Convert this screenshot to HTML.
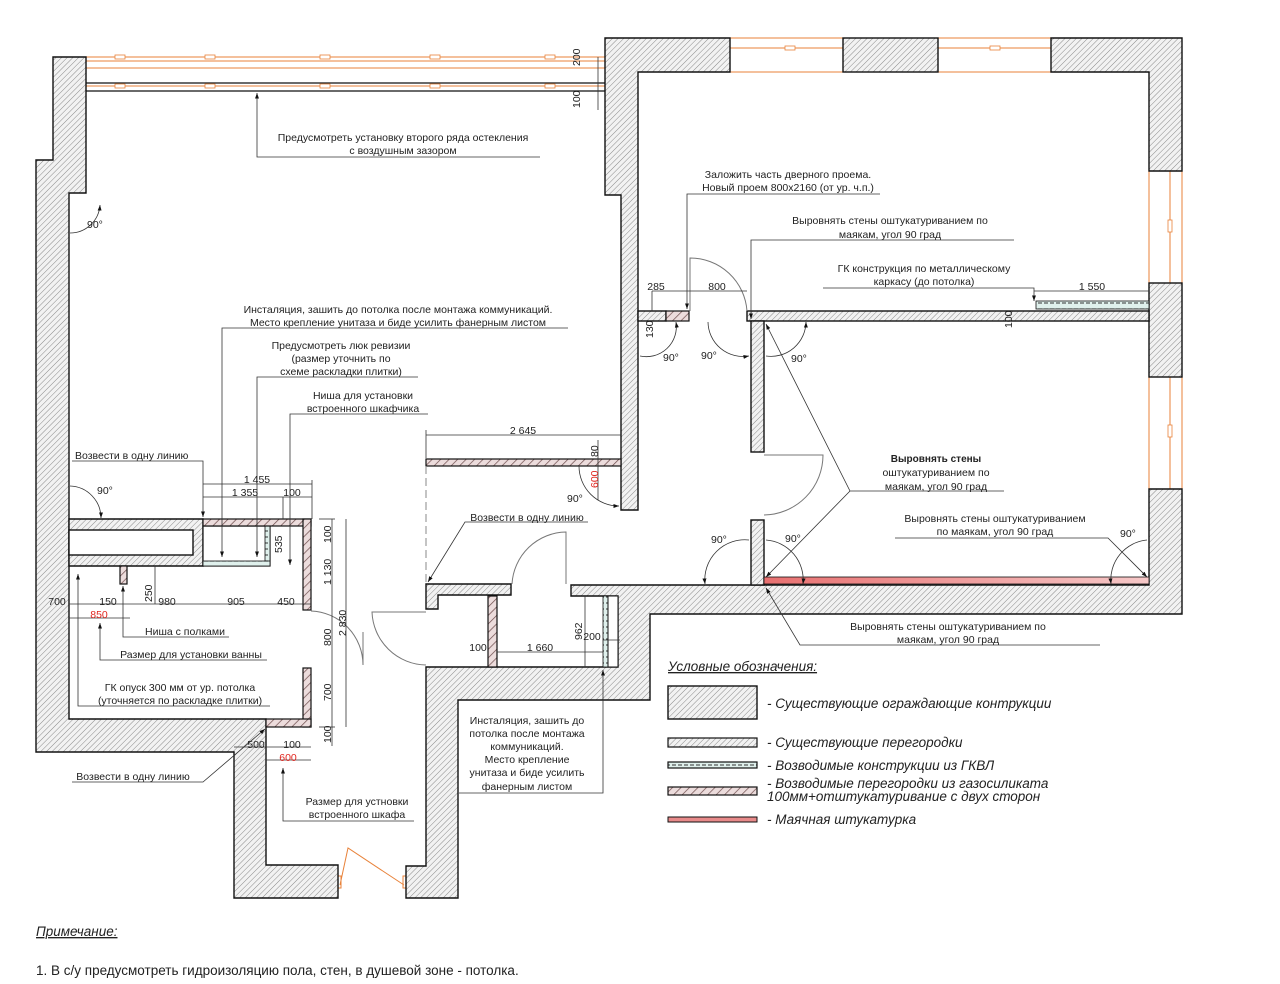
<!DOCTYPE html>
<html><head><meta charset="utf-8">
<style>
html,body{margin:0;padding:0;background:#fff;}
svg{display:block;}
text{font-family:"Liberation Sans",sans-serif;font-size:10.5px;fill:#222;}
.c{text-anchor:middle;}
.r{fill:#e0261f;}
.lg{font-size:13.5px;font-style:italic;}
</style></head><body>
<svg width="1280" height="984" viewBox="0 0 1280 984" xmlns="http://www.w3.org/2000/svg">
<defs>
<pattern id="h" width="4" height="4" patternUnits="userSpaceOnUse" patternTransform="rotate(45)">
<rect width="4" height="4" fill="#f2f2f2"/><line x1="0" y1="0" x2="0" y2="4" stroke="#8a8a8a" stroke-width="1"/></pattern>
<pattern id="b" width="6" height="6" patternUnits="userSpaceOnUse" patternTransform="rotate(45)">
<rect width="6" height="6" fill="#ecdcdc"/><line x1="0" y1="0" x2="0" y2="6" stroke="#6b4a4a" stroke-width="1.4"/></pattern>
<pattern id="g" width="6" height="6" patternUnits="userSpaceOnUse">
<rect width="6" height="6" fill="#dff0ec"/><line x1="0" y1="3" x2="4" y2="3" stroke="#333" stroke-width="1"/></pattern>
<linearGradient id="pk" x1="0" x2="1"><stop offset="0" stop-color="#e87070"/><stop offset="1" stop-color="#f6c8c8"/></linearGradient>
<marker id="a" markerWidth="8" markerHeight="8" refX="7" refY="4" orient="auto"><path d="M0,1.5 L7,4 L0,6.5z" fill="#111"/></marker>
</defs>

<!-- top-left glazing -->
<g stroke="#e8823a" stroke-width="1" fill="none">
<line x1="86" y1="57" x2="605" y2="57"/><line x1="86" y1="61" x2="605" y2="61"/>
<line x1="86" y1="68" x2="605" y2="68"/><line x1="86" y1="86" x2="605" y2="86"/>
<line x1="730" y1="38" x2="843" y2="38"/><line x1="730" y1="48" x2="843" y2="48"/><line x1="730" y1="72" x2="843" y2="72"/>
<line x1="938" y1="38" x2="1051" y2="38"/><line x1="938" y1="48" x2="1051" y2="48"/><line x1="938" y1="72" x2="1051" y2="72"/>
<line x1="1149" y1="171" x2="1149" y2="283"/><line x1="1170" y1="171" x2="1170" y2="283"/><line x1="1182" y1="171" x2="1182" y2="283"/>
<line x1="1149" y1="377" x2="1149" y2="489"/><line x1="1170" y1="377" x2="1170" y2="489"/><line x1="1182" y1="377" x2="1182" y2="489"/>
<path d="M340,885 L348,848 L404,885"/>
<rect x="337" y="876" width="4" height="12"/><rect x="403" y="876" width="4" height="12"/>
</g>
<g stroke="#111" stroke-width="1.2"><line x1="86" y1="83" x2="605" y2="83"/><line x1="86" y1="91" x2="605" y2="91"/></g>
<g fill="#fff" stroke="#e8823a" stroke-width="0.8">
<rect x="115" y="55" width="10" height="4"/><rect x="205" y="55" width="10" height="4"/><rect x="320" y="55" width="10" height="4"/><rect x="430" y="55" width="10" height="4"/><rect x="545" y="55" width="10" height="4"/>
<rect x="115" y="84" width="10" height="4"/><rect x="205" y="84" width="10" height="4"/><rect x="320" y="84" width="10" height="4"/><rect x="430" y="84" width="10" height="4"/><rect x="545" y="84" width="10" height="4"/>
<rect x="785" y="46" width="10" height="4"/><rect x="990" y="46" width="10" height="4"/>
<rect x="1168" y="220" width="4" height="12"/><rect x="1168" y="425" width="4" height="12"/>
</g>

<!-- walls -->
<g fill="url(#h)" stroke="#111" stroke-width="1.4">
<path d="M53,57 L86,57 L86,193 L69,193 L69,719 L266,719 L266,865 L338,865 L338,898 L234,898 L234,752 L36,752 L36,160 L53,160Z"/>
<path d="M69,519 L203,519 L203,566 L69,566Z"/>
<path d="M605,38 L730,38 L730,72 L638,72 L638,510 L621,510 L621,195 L605,195Z"/>
<rect x="843" y="38" width="95" height="34"/>
<path d="M1051,38 L1182,38 L1182,171 L1149,171 L1149,72 L1051,72Z"/>
<rect x="1149" y="283" width="33" height="94"/>
<path d="M571,585 L1149,585 L1149,489 L1182,489 L1182,614 L650,614 L650,700 L458,700 L458,898 L406,898 L406,866 L426,866 L426,667 L618,667 L618,596 L571,596Z"/>
<path d="M426,584 L511,584 L511,595 L438,595 L438,609 L426,609Z"/>
<rect x="638" y="311" width="28" height="10"/>
<rect x="747" y="311" width="402" height="10"/>
<rect x="751" y="321" width="13" height="131"/>
<rect x="751" y="520" width="13" height="65"/>
</g>
<rect x="69" y="530" width="124" height="25" fill="#fff" stroke="#111" stroke-width="1.4"/>
<rect x="203" y="526" width="67" height="40" fill="#fff" stroke="#111" stroke-width="1.2"/>
<rect x="265" y="526" width="5" height="40" fill="url(#g)" stroke="#111" stroke-width="0.8"/>
<rect x="203" y="561" width="67" height="5" fill="url(#g)" stroke="#111" stroke-width="0.8"/>
<g fill="url(#b)" stroke="#111" stroke-width="1.2">
<rect x="203" y="519" width="108" height="7"/>
<rect x="303" y="519" width="8" height="91"/>
<rect x="303" y="668" width="8" height="59"/>
<rect x="266" y="719" width="45" height="8"/>
<rect x="120" y="566" width="7" height="18"/>
<rect x="426" y="459" width="195" height="7"/>
<rect x="666" y="311" width="23" height="10"/>
<rect x="488" y="596" width="9" height="71"/>
</g>
<rect x="603" y="596" width="5" height="71" fill="url(#g)" stroke="#111" stroke-width="0.8"/>
<rect x="608" y="596" width="10" height="71" fill="#fff" stroke="#111" stroke-width="1"/>
<rect x="1036" y="301" width="113" height="8" fill="url(#g)" stroke="#111" stroke-width="0.8"/>
<rect x="764" y="577" width="385" height="7" fill="url(#pk)" stroke="#111" stroke-width="0.8"/>
<line x1="426" y1="466" x2="426" y2="584" stroke="#888" stroke-dasharray="8,4"/>

<!-- doors -->
<g fill="none" stroke="#777" stroke-width="1">
<path d="M690,311 L690,258 A57,57 0 0 1 747,311"/>
<path d="M764,455 L823,455 A60,60 0 0 1 764,515"/>
<path d="M311,611 A54,54 0 0 1 363,665 L363,632"/>
<path d="M426,612 L372,612 A55,55 0 0 0 426,665"/>
<path d="M566,584 L566,532 A55,55 0 0 0 512,584"/>
</g>

<!-- leaders & dims -->
<g stroke="#333" stroke-width="0.8" fill="none">
<path d="M540,157 L257,157 L257,93" marker-end="url(#a)"/>
<path d="M568,328 L222,328 L222,557" marker-end="url(#a)"/>
<path d="M418,377 L257,377 L257,557" marker-end="url(#a)"/>
<path d="M428,414 L290,414 L290,565" marker-end="url(#a)"/>
<path d="M72,461 L203,461 L203,517" marker-end="url(#a)"/>
<path d="M588,522 L465,522 L428,582" marker-end="url(#a)"/>
<path d="M72,782 L203,782 L265,729" marker-end="url(#a)"/>
<path d="M414,821 L283,821 L283,768" marker-end="url(#a)"/>
<path d="M459,793 L603,793 L603,670" marker-end="url(#a)"/>
<path d="M229,637 L123,637 L123,586" marker-end="url(#a)"/>
<path d="M267,660 L100,660 L100,623" marker-end="url(#a)"/>
<path d="M270,706 L78,706 L78,574" marker-end="url(#a)"/>
<path d="M880,194 L687,194 L687,309" marker-end="url(#a)"/>
<path d="M1014,240 L751,240 L751,319" marker-end="url(#a)"/>
<path d="M823,288 L1034,288 L1034,301" marker-end="url(#a)"/>
<path d="M1004,491 L850,491 L766,324" marker-end="url(#a)"/>
<path d="M850,491 L766,577" marker-end="url(#a)"/>
<path d="M895,538 L1108,538 L1147,577" marker-end="url(#a)"/>
<path d="M1100,645 L800,645 L766,588" marker-end="url(#a)"/>
<line x1="426" y1="435" x2="621" y2="435"/><line x1="426" y1="430" x2="426" y2="458"/>
<line x1="203" y1="484" x2="312" y2="484"/><line x1="203" y1="497" x2="312" y2="497"/>
<line x1="283" y1="497" x2="283" y2="519"/><line x1="312" y1="480" x2="312" y2="519"/>
<line x1="319" y1="519" x2="335" y2="519"/><line x1="319" y1="727" x2="335" y2="727"/>
<line x1="332" y1="519" x2="332" y2="746"/><line x1="346" y1="519" x2="346" y2="727"/>
<line x1="69" y1="604" x2="311" y2="604"/><line x1="69" y1="618" x2="130" y2="618"/>
<line x1="155" y1="566" x2="155" y2="604"/>
<line x1="234" y1="747" x2="311" y2="747"/><line x1="266" y1="760" x2="311" y2="760"/>
<line x1="497" y1="652" x2="603" y2="652"/><line x1="585" y1="596" x2="585" y2="667"/>
<line x1="603" y1="640" x2="620" y2="640"/>
<line x1="652" y1="291" x2="747" y2="291"/><line x1="652" y1="291" x2="652" y2="311"/>
<line x1="1034" y1="291" x2="1149" y2="291"/>
<line x1="598" y1="57" x2="598" y2="110"/><line x1="598" y1="440" x2="598" y2="500"/>
</g>

<!-- angle arcs -->
<g stroke="#333" stroke-width="0.8" fill="none">
<path d="M70,233 A30,30 0 0 0 100,205" marker-end="url(#a)"/>
<path d="M70,486 A32,32 0 0 1 101,518" marker-end="url(#a)"/>
<path d="M579,466 A40,40 0 0 0 619,506" marker-end="url(#a)"/>
<path d="M640,356 A30,30 0 0 0 676,322" marker-end="url(#a)"/>
<path d="M708,322 A35,35 0 0 0 749,356" marker-end="url(#a)"/>
<path d="M766,356 A35,35 0 0 0 806,322" marker-end="url(#a)"/>
<path d="M749,540 A40,40 0 0 0 705,584" marker-end="url(#a)"/>
<path d="M766,540 A40,40 0 0 1 803,584" marker-end="url(#a)"/>
<path d="M1147,540 A40,40 0 0 0 1111,584" marker-end="url(#a)"/>
</g>

<!-- texts -->
<text class="c" x="403" y="141">Предусмотреть установку второго ряда остекления</text>
<text class="c" x="403" y="154">с воздушным зазором</text>
<text transform="translate(580,66) rotate(-90)">200</text>
<text transform="translate(580,108) rotate(-90)">100</text>
<text x="87" y="228">90°</text>
<text class="c" x="398" y="313">Инсталяция, зашить до потолка после монтажа коммуникаций.</text>
<text class="c" x="398" y="326">Место крепление унитаза и биде усилить фанерным листом</text>
<text class="c" x="341" y="349">Предусмотреть люк ревизии</text>
<text class="c" x="341" y="362">(размер уточнить по</text>
<text class="c" x="341" y="375">схеме раскладки плитки)</text>
<text class="c" x="363" y="399">Ниша для установки</text>
<text class="c" x="363" y="412">встроенного шкафчика</text>
<text class="c" x="523" y="434">2 645</text>
<text transform="translate(598,457) rotate(-90)">80</text>
<text class="r" transform="translate(598,488) rotate(-90)">600</text>
<text x="567" y="502">90°</text>
<text x="75" y="459">Возвести в одну линию</text>
<text class="c" x="257" y="483">1 455</text>
<text class="c" x="245" y="496">1 355</text>
<text class="c" x="292" y="496">100</text>
<text x="97" y="494">90°</text>
<text class="c" x="527" y="521">Возвести в одну линию</text>
<text transform="translate(331,543) rotate(-90)">100</text>
<text transform="translate(282,553) rotate(-90)">535</text>
<text transform="translate(331,585) rotate(-90)">1 130</text>
<text transform="translate(346,636) rotate(-90)">2 830</text>
<text transform="translate(331,646) rotate(-90)">800</text>
<text transform="translate(331,701) rotate(-90)">700</text>
<text transform="translate(331,743) rotate(-90)">100</text>
<text class="c" x="57" y="605">700</text>
<text class="c" x="108" y="605">150</text>
<text transform="translate(152,602) rotate(-90)">250</text>
<text class="c" x="167" y="605">980</text>
<text class="c" x="236" y="605">905</text>
<text class="c" x="286" y="605">450</text>
<text class="c r" x="99" y="618">850</text>
<text class="c" x="185" y="635">Ниша с полками</text>
<text class="c" x="191" y="658">Размер для установки ванны</text>
<text class="c" x="180" y="691">ГК опуск 300 мм от ур. потолка</text>
<text class="c" x="180" y="704">(уточняется по раскладке плитки)</text>
<text class="c" x="256" y="748">500</text>
<text class="c" x="292" y="748">100</text>
<text class="c r" x="288" y="761">600</text>
<text class="c" x="133" y="780">Возвести в одну линию</text>
<text class="c" x="357" y="805">Размер для устновки</text>
<text class="c" x="357" y="818">встроенного шкафа</text>
<text class="c" x="527" y="724">Инсталяция, зашить до</text>
<text class="c" x="527" y="737">потолка после монтажа</text>
<text class="c" x="527" y="750">коммуникаций.</text>
<text class="c" x="527" y="763">Место крепление</text>
<text class="c" x="527" y="776">унитаза и биде усилить</text>
<text class="c" x="527" y="790">фанерным листом</text>
<text class="c" x="478" y="651">100</text>
<text class="c" x="540" y="651">1 660</text>
<text transform="translate(582,640) rotate(-90)">962</text>
<text class="c" x="592" y="640">200</text>
<text class="c" x="788" y="178">Заложить часть дверного проема.</text>
<text class="c" x="788" y="191">Новый проем 800х2160 (от ур. ч.п.)</text>
<text class="c" x="890" y="224">Выровнять стены оштукатуриванием по</text>
<text class="c" x="890" y="238">маякам, угол 90 град</text>
<text class="c" x="924" y="272">ГК конструкция по металлическому</text>
<text class="c" x="924" y="285">каркасу (до потолка)</text>
<text class="c" x="656" y="290">285</text>
<text class="c" x="717" y="290">800</text>
<text class="c" x="1092" y="290">1 550</text>
<text transform="translate(653,338) rotate(-90)">130</text>
<text transform="translate(1012,328) rotate(-90)">100</text>
<text x="663" y="361">90°</text>
<text x="701" y="359">90°</text>
<text x="791" y="362">90°</text>
<text class="c" x="936" y="462" style="font-weight:bold;font-size:10px">Выровнять стены</text>
<text class="c" x="936" y="476">оштукатуриванием по</text>
<text class="c" x="936" y="490">маякам, угол 90 град</text>
<text class="c" x="995" y="522">Выровнять стены оштукатуриванием</text>
<text class="c" x="995" y="535">по маякам, угол 90 град</text>
<text x="711" y="543">90°</text>
<text x="785" y="542">90°</text>
<text x="1120" y="537">90°</text>
<text class="c" x="948" y="630">Выровнять стены оштукатуриванием по</text>
<text class="c" x="948" y="643">маякам, угол 90 град</text>

<!-- legend -->
<text class="lg" x="668" y="671" text-decoration="underline">Условные обозначения:</text>
<rect x="668" y="686" width="89" height="33" fill="url(#h)" stroke="#111" stroke-width="1.4"/>
<rect x="668" y="738" width="89" height="9" fill="url(#h)" stroke="#111" stroke-width="1.2"/>
<rect x="668" y="762" width="89" height="6" fill="url(#g)" stroke="#111" stroke-width="1.2"/>
<rect x="668" y="787" width="89" height="8" fill="url(#b)" stroke="#111" stroke-width="1.2"/>
<rect x="668" y="817" width="89" height="5" fill="#e88a8a" stroke="#111" stroke-width="1"/>
<text class="lg" x="767" y="708">- Существующие ограждающие контрукции</text>
<text class="lg" x="767" y="747">- Существующие перегородки</text>
<text class="lg" x="767" y="770">- Возводимые конструкции из ГКВЛ</text>
<text class="lg" x="767" y="788">- Возводимые перегородки из газосиликата</text>
<text class="lg" x="767" y="801">100мм+отштукатуривание с двух сторон</text>
<text class="lg" x="767" y="824">- Маячная штукатурка</text>

<text class="lg" x="36" y="936" text-decoration="underline">Примечание:</text>
<text class="lg" x="36" y="975" style="font-style:normal">1. В с/у предусмотреть гидроизоляцию пола, стен, в душевой зоне - потолка.</text>
</svg>
</body></html>
